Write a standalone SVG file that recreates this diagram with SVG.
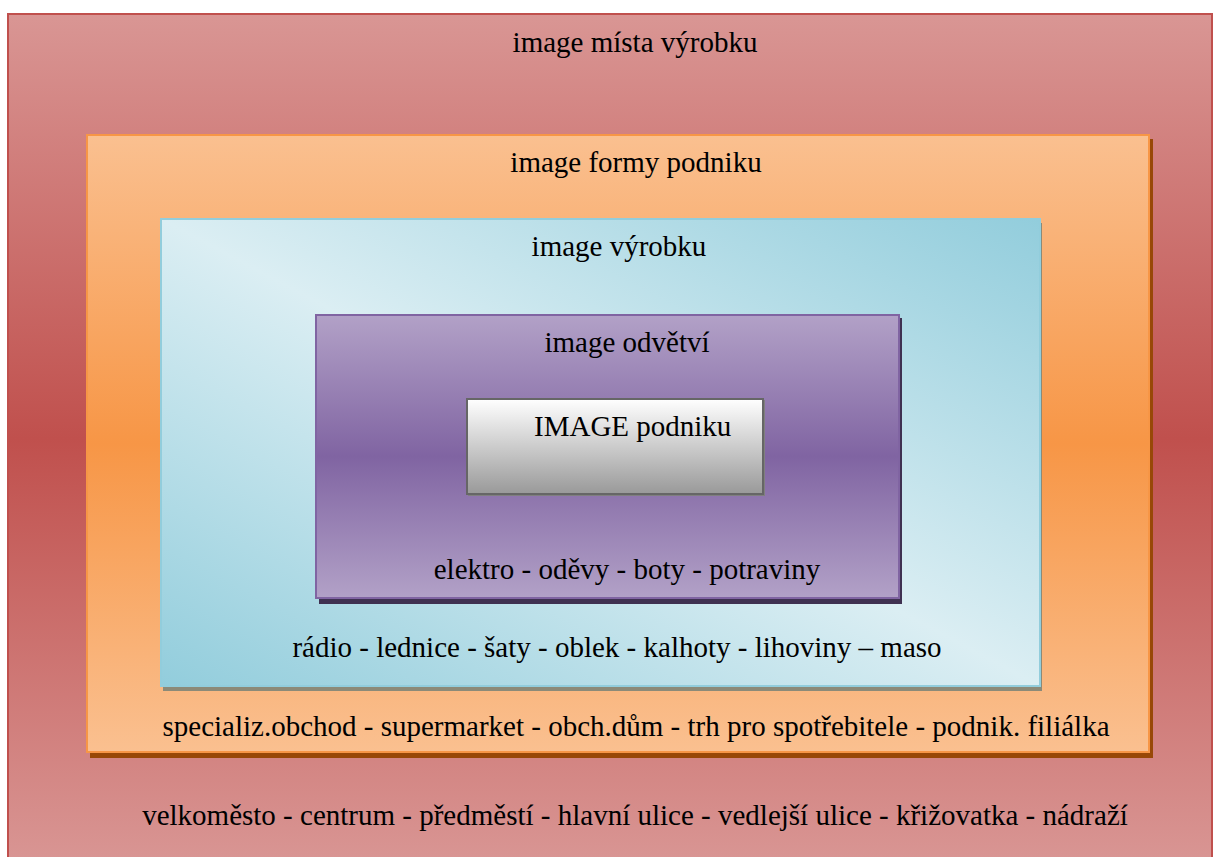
<svg xmlns="http://www.w3.org/2000/svg" width="1213" height="857" viewBox="0 0 1213 857">
<defs>
<linearGradient id="gRed" x1="0" y1="0" x2="0" y2="1">
<stop offset="0" stop-color="#d99694"/><stop offset="0.5" stop-color="#c0504d"/><stop offset="1" stop-color="#d99694"/>
</linearGradient>
<linearGradient id="gOrange" x1="0" y1="0" x2="0" y2="1">
<stop offset="0" stop-color="#fac090"/><stop offset="0.5" stop-color="#f79646"/><stop offset="1" stop-color="#fac090"/>
</linearGradient>
<linearGradient id="gBlue" x1="0" y1="1" x2="1" y2="0">
<stop offset="0" stop-color="#92cddc"/><stop offset="0.5" stop-color="#dbeef3"/><stop offset="1" stop-color="#92cddc"/>
</linearGradient>
<linearGradient id="gPurple" x1="0" y1="0" x2="0" y2="1">
<stop offset="0" stop-color="#b2a1c7"/><stop offset="0.5" stop-color="#8064a2"/><stop offset="1" stop-color="#b2a1c7"/>
</linearGradient>
<linearGradient id="gGray" x1="0" y1="0" x2="0" y2="1">
<stop offset="0" stop-color="#ffffff"/><stop offset="1" stop-color="#999999"/>
</linearGradient>
</defs>
<style>
.t{font-size:29px;fill:#000}
.c{text-anchor:middle}
</style>
<rect width="1213" height="857" fill="#ffffff"/>
<g font-family="'Liberation Serif', 'Times New Roman', serif">
<g id="n-misto">
<rect x="8" y="14" width="1204" height="850" fill="url(#gRed)" stroke="#c0504d" stroke-width="2"/>
<text class="t c" x="635" y="52">image místa výrobku</text>
<text class="t c" x="635" y="825">velkoměsto - centrum - předměstí - hlavní ulice - vedlejší ulice - křižovatka - nádraží</text>
</g>
<g id="n-forma">
<rect x="90" y="139" width="1063" height="619" fill="#984807"/>
<rect x="87" y="135" width="1062" height="617" fill="url(#gOrange)" stroke="#f79646" stroke-width="2"/>
<text class="t c" x="636" y="172">image formy podniku</text>
<text class="t c" x="636" y="736">specializ.obchod - supermarket - obch.dům - trh pro spotřebitele - podnik. filiálka</text>
</g>
<g id="n-vyrobek">
<rect x="163" y="223" width="879" height="468" fill="#8c8a78"/>
<rect x="161" y="219" width="879" height="467" fill="url(#gBlue)" stroke="#92cddc" stroke-width="2"/>
<text class="t c" x="619" y="256">image výrobku</text>
<text class="t c" x="617" y="657">rádio - lednice - šaty - oblek - kalhoty - lihoviny – maso</text>
</g>
<g id="n-odvetvi">
<rect x="319" y="318" width="583" height="286" fill="#3f3151"/>
<rect x="316" y="315" width="583" height="283" fill="url(#gPurple)" stroke="#8064a2" stroke-width="2"/>
<text class="t c" x="627" y="352">image odvětví</text>
<text class="t c" x="627" y="579">elektro - oděvy - boty - potraviny</text>
</g>
<g id="n-podnik">
<rect x="468" y="400" width="297" height="96" fill="#7f7f7f"/>
<rect x="467" y="399" width="296" height="95" fill="url(#gGray)" stroke="#666666" stroke-width="2"/>
<text class="t" x="534" y="436">IMAGE podniku</text>
</g>
</g>
<g id="connectors"></g>
</svg>
